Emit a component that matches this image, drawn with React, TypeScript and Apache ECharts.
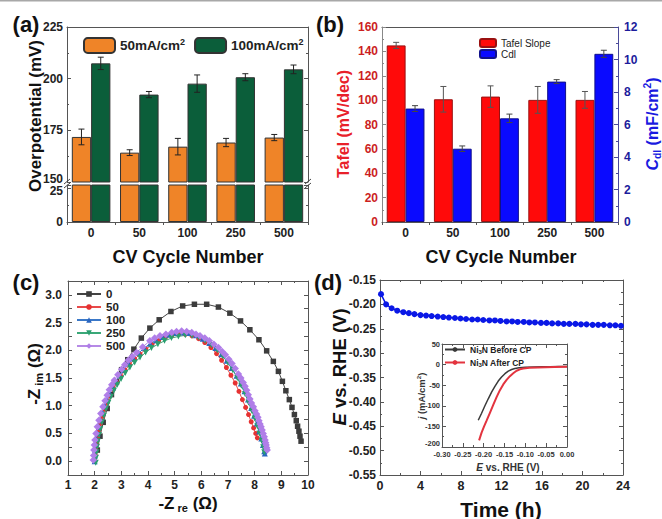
import React, { useEffect, useRef } from 'react';
import * as echarts from 'echarts';

// ---------- data ----------
const cycleLabels = ['0', '50', '100', '250', '500'];
const eta50 = [171.8, 164.2, 167.1, 169.1, 171.5];
const eta50Err = [3.8, 1.4, 4.0, 2.0, 1.5];
const eta100 = [207.4, 192.3, 197.6, 200.7, 204.5];
const eta100Err = [3.0, 1.5, 4.2, 1.7, 2.1];

const tafel = [144.9, 100.7, 102.9, 100.2, 100.2];
const tafelErr = [2.5, 10.5, 8.8, 11.0, 6.9];
const cdl = [6.98, 4.51, 6.38, 8.64, 10.35];
const cdlErr = [0.18, 0.17, 0.26, 0.12, 0.22];

const eis0 = [[2.1,0.2],[2.2,0.45],[2.32,0.7],[2.47,0.95],[2.63,1.2],[2.82,1.43],[3.01,1.65],[3.24,1.83],[3.47,2.02],[3.75,2.22],[4.07,2.4],[4.42,2.55],[4.86,2.7],[5.3,2.8],[5.74,2.83],[6.2,2.83],[6.64,2.78],[7.07,2.67],[7.47,2.53],[7.82,2.37],[8.16,2.19],[8.45,1.99],[8.7,1.8],[8.89,1.62],[9.04,1.44],[9.17,1.27],[9.3,1.11],[9.4,0.97],[9.49,0.84],[9.56,0.73],[9.61,0.63],[9.66,0.54],[9.7,0.45],[9.74,0.36]];
const eis50 = [[2.0,0.02],[2.02,0.12],[2.04,0.22],[2.07,0.33],[2.11,0.44],[2.16,0.56],[2.22,0.68],[2.3,0.81],[2.38,0.94],[2.47,1.06],[2.58,1.18],[2.7,1.3],[2.83,1.42],[2.98,1.53],[3.14,1.64],[3.31,1.74],[3.5,1.84],[3.7,1.93],[3.92,2.02],[4.15,2.1],[4.4,2.17],[4.65,2.23],[4.9,2.27],[5.15,2.29],[5.4,2.29],[5.65,2.26],[5.9,2.21],[6.13,2.14],[6.36,2.05],[6.57,1.94],[6.76,1.82],[6.94,1.69],[7.11,1.55],[7.27,1.41],[7.41,1.26],[7.54,1.11],[7.66,0.97],[7.77,0.84],[7.87,0.71],[7.96,0.6],[8.04,0.5],[8.1,0.42]];
const eis100 = [[2.0,0.0],[2.01,0.1],[2.02,0.2],[2.04,0.3],[2.07,0.4],[2.11,0.5],[2.16,0.62],[2.22,0.74],[2.3,0.87],[2.38,0.99],[2.47,1.1],[2.57,1.22],[2.68,1.33],[2.8,1.44],[2.95,1.55],[3.1,1.65],[3.27,1.76],[3.45,1.85],[3.65,1.95],[3.86,2.04],[4.08,2.12],[4.3,2.18],[4.55,2.24],[4.8,2.28],[5.05,2.31],[5.3,2.32],[5.55,2.31],[5.8,2.27],[6.05,2.21],[6.3,2.13],[6.53,2.04],[6.75,1.93],[6.95,1.81],[7.14,1.68],[7.32,1.54],[7.48,1.4],[7.62,1.26],[7.75,1.11],[7.87,0.96],[7.98,0.82],[8.08,0.68],[8.17,0.54],[8.25,0.41],[8.31,0.29],[8.36,0.18],[8.38,0.14]];
const eis250 = [[2.04,-0.03],[2.05,0.06],[2.07,0.16],[2.09,0.26],[2.12,0.36],[2.16,0.47],[2.21,0.58],[2.27,0.7],[2.34,0.82],[2.42,0.94],[2.51,1.05],[2.61,1.16],[2.72,1.27],[2.85,1.38],[2.99,1.48],[3.15,1.59],[3.32,1.69],[3.5,1.78],[3.7,1.87],[3.91,1.96],[4.13,2.04],[4.37,2.11],[4.62,2.17],[4.88,2.22],[5.14,2.25],[5.4,2.27],[5.65,2.26],[5.9,2.23],[6.14,2.17],[6.38,2.09],[6.6,2.0],[6.81,1.89],[7.0,1.77],[7.18,1.64],[7.35,1.5],[7.5,1.36],[7.64,1.21],[7.77,1.06],[7.89,0.91],[8.0,0.77],[8.1,0.63],[8.18,0.5],[8.26,0.37],[8.32,0.25],[8.36,0.16]];
const eis500 = [[1.95,0.02],[1.96,0.1],[1.97,0.2],[1.99,0.29],[2.01,0.38],[2.05,0.5],[2.1,0.62],[2.16,0.74],[2.23,0.86],[2.31,0.98],[2.39,1.09],[2.47,1.19],[2.55,1.29],[2.64,1.38],[2.74,1.46],[2.87,1.56],[3.01,1.66],[3.13,1.74],[3.26,1.82],[3.41,1.89],[3.57,1.96],[3.8,2.06],[4.07,2.17],[4.25,2.22],[4.45,2.26],[4.67,2.29],[4.89,2.32],[5.07,2.34],[5.26,2.35],[5.45,2.34],[5.64,2.32],[5.8,2.29],[5.95,2.26],[6.13,2.22],[6.3,2.17],[6.47,2.11],[6.64,2.05],[6.78,1.98],[6.9,1.92],[7.03,1.84],[7.15,1.76],[7.27,1.67],[7.39,1.57],[7.48,1.5],[7.57,1.42],[7.64,1.35],[7.7,1.28],[7.76,1.2],[7.82,1.12],[7.88,1.05],[7.95,0.98],[8.01,0.91],[8.07,0.85],[8.12,0.79],[8.16,0.73],[8.2,0.67],[8.24,0.62],[8.28,0.56],[8.32,0.5],[8.36,0.44],[8.39,0.38],[8.41,0.33],[8.43,0.29],[8.45,0.24],[8.47,0.2]];

const timeH = [0.1,0.6,1.15,1.7,2.3,2.85,3.4,4.0,4.55,5.1,5.7,6.25,6.8,7.4,7.95,8.5,9.1,9.65,10.2,10.8,11.35,11.9,12.5,13.05,13.6,14.2,14.75,15.3,15.9,16.45,17.0,17.6,18.15,18.7,19.3,19.85,20.4,21.0,21.55,22.1,22.7,23.25,23.8];
const potential = [-0.179,-0.2,-0.208,-0.213,-0.216,-0.218,-0.22,-0.222,-0.223,-0.224,-0.225,-0.226,-0.227,-0.228,-0.229,-0.23,-0.231,-0.231,-0.232,-0.233,-0.233,-0.234,-0.235,-0.235,-0.236,-0.236,-0.237,-0.237,-0.238,-0.238,-0.239,-0.239,-0.24,-0.24,-0.24,-0.241,-0.241,-0.242,-0.242,-0.242,-0.243,-0.243,-0.244];

const lsvBefore = [[-0.213,-135],[-0.205,-118],[-0.197,-100],[-0.189,-83],[-0.181,-67],[-0.173,-53],[-0.165,-40],[-0.157,-30],[-0.149,-22],[-0.141,-16],[-0.133,-12],[-0.125,-9.5],[-0.115,-7.8],[-0.1,-6.5],[-0.08,-5.8],[-0.06,-5.3],[-0.04,-5],[-0.02,-4.8],[0,-4.6]];
const lsvAfter = [[-0.211,-184],[-0.205,-165],[-0.199,-150],[-0.193,-136],[-0.185,-117],[-0.177,-98],[-0.169,-79],[-0.161,-62],[-0.153,-48],[-0.145,-37],[-0.137,-28],[-0.129,-21],[-0.121,-15],[-0.113,-11.5],[-0.105,-9.5],[-0.09,-7.8],[-0.07,-6.8],[-0.05,-6.2],[-0.03,-5.8],[0,-5.5]];

// ---------- styling ----------
const FONT = '"Liberation Sans", Arial, sans-serif';
const AX = '#555';
const ORANGE = '#ef8428';
const GREEN = '#0b5e3a';
const N50 = '50mA/cm2';
const N100 = '100mA/cm2';
const NB = 'Ni3N Before CP';
const NA = 'Ni3N After CP';

const line = (color = AX) => ({ show: true, onZero: false, lineStyle: { color, width: 1 } });
const tick = (color = AX, show = true) => ({ show, inside: true, length: 4, lineStyle: { color } });
const minor = (n: number, color = AX) => ({ show: true, splitNumber: n, length: 2, lineStyle: { color } });
const lbl = (size: number, color: string, margin: number, formatter?: any, rich?: any) => ({
  show: true, fontSize: size, fontWeight: 'bold', color, margin, fontFamily: FONT, formatter, rich,
});
const noLbl = { show: false };
const noSplit = { show: false };
const shifted = (size: number, color: string, pad: number[]) => ({
  u: { fontSize: size, fontWeight: 'bold', color, fontFamily: FONT, padding: pad },
});

const errRender = (frac: number, color: string, cap: number) => (params: any, api: any) => {
  const i = api.value(0);
  const lo = api.coord([i, api.value(1)]);
  const hi = api.coord([i, api.value(2)]);
  const bw = api.size([1, 0])[0];
  const x = lo[0] + frac * bw;
  const style = { stroke: color, lineWidth: 1 };
  return {
    type: 'group',
    children: [
      { type: 'line', shape: { x1: x, y1: lo[1], x2: x, y2: hi[1] }, style },
      { type: 'line', shape: { x1: x - cap, y1: lo[1], x2: x + cap, y2: lo[1] }, style },
      { type: 'line', shape: { x1: x - cap, y1: hi[1], x2: x + cap, y2: hi[1] }, style },
    ],
  };
};

const txt = (x: number, y: number, text: string, size: number, o: any = {}) => ({
  type: 'text',
  x, y,
  rotation: o.rot || 0,
  z: 100,
  style: {
    text,
    fontSize: size,
    fontWeight: o.weight || 'bold',
    fontFamily: FONT,
    fill: o.color || '#111',
    align: o.align || 'center',
    textAlign: o.align || 'center',
    verticalAlign: 'middle',
    textVerticalAlign: 'middle',
    rich: o.rich,
  },
});

const richTitle = (size: number, color: string) => ({
  n: { fontSize: size, fontWeight: 'bold', fontFamily: FONT, fill: color, lineHeight: size * 1.25 },
  i: { fontSize: size, fontWeight: 'bold', fontStyle: 'italic', fontFamily: FONT, fill: color, lineHeight: size * 1.25 },
  s: { fontSize: size * 0.65, fontWeight: 'bold', fontFamily: FONT, fill: color, verticalAlign: 'bottom', lineHeight: size * 0.65 },
  p: { fontSize: size * 0.65, fontWeight: 'bold', fontFamily: FONT, fill: color, verticalAlign: 'top', lineHeight: size * 0.65 },
});

const brk = (x: number, y: number) => ({
  type: 'line', z: 100,
  shape: { x1: x - 3, y1: y + 2.5, x2: x + 3, y2: y - 2.5 },
  style: { stroke: '#444', lineWidth: 1 },
});

function buildOption(): any {
  const catX = (gi: number, pos: string, show: boolean, labels: boolean) => ({
    type: 'category', gridIndex: gi, data: cycleLabels, position: pos,
    axisLine: show ? line() : { show: false },
    axisTick: labels ? { show: true, inside: false, length: 3, lineStyle: { color: AX } } : { show: false },
    axisLabel: labels ? lbl(12, '#222', 5) : noLbl,
    splitLine: noSplit,
  });
  const valX = (gi: number, pos: string, min: number, max: number, interval: number, mn: number, label: any) => ({
    type: 'value', gridIndex: gi, position: pos, min, max, interval,
    axisLine: line(), axisTick: tick(), minorTick: minor(mn),
    axisLabel: label || noLbl, splitLine: noSplit, minorSplitLine: { show: false },
  });
  const valY = (gi: number, pos: string, min: number, max: number, interval: number, mn: number, label: any, color = AX) => ({
    type: 'value', gridIndex: gi, position: pos, min, max, interval,
    axisLine: line(color), axisTick: tick(color), minorTick: minor(mn, color),
    axisLabel: label || noLbl, splitLine: noSplit, minorSplitLine: { show: false },
  });

  const barStyle = (color: string, border: string) => ({ color, borderColor: border, borderWidth: 1 });

  return {
    animation: false,
    backgroundColor: '#fff',
    textStyle: { fontFamily: FONT },
    grid: [
      { left: 67, top: 27, width: 241, height: 155 },
      { left: 67, top: 185, width: 241, height: 37 },
      { left: 382, top: 27, width: 236, height: 195 },
      { left: 68, top: 281, width: 240, height: 194 },
      { left: 380, top: 280, width: 243, height: 195 },
      { left: 442, top: 344, width: 125, height: 103, show: true, backgroundColor: '#fff', borderWidth: 0 },
    ],
    xAxis: [
      catX(0, 'bottom', false, false),
      catX(0, 'top', true, false),
      catX(1, 'bottom', true, true),
      catX(2, 'bottom', true, true),
      catX(2, 'top', true, false),
      valX(3, 'bottom', 1, 10, 1, 2, lbl(12, '#222', 4)),
      valX(3, 'top', 1, 10, 1, 2, null),
      valX(4, 'bottom', 0, 24, 4, 2, lbl(12.5, '#222', 4)),
      valX(4, 'top', 0, 24, 4, 2, null),
      valX(5, 'bottom', -0.3, 0, 0.05, 2, lbl(7.5, '#333', 3, (v: number) => v.toFixed(2))),
      valX(5, 'top', -0.3, 0, 0.05, 2, null),
    ],
    yAxis: [
      valY(0, 'left', 150, 225, 25, 2, lbl(12, '#222', 4,
        (v: number) => (v === 150 ? '{u|150}' : String(v)), shifted(12, '#222', [0, 0, 7, 0]))),
      valY(0, 'right', 150, 225, 25, 2, null),
      valY(1, 'left', 0, 27.2, 25, 2, lbl(12, '#222', 4,
        (v: number) => (Math.abs(v - 25) < 1e-6 ? '{u|25}' : Math.abs(v) < 1e-6 ? '0' : ''), shifted(12, '#222', [6, 0, 0, 0]))),
      valY(1, 'right', 0, 27.2, 25, 2, null),
      valY(2, 'left', 0, 160, 20, 2, lbl(12, '#cc1f1f', 4), '#888'),
      valY(2, 'right', 0, 12, 2, 2, lbl(12, '#1c1c9c', 6), '#4a4a9a'),
      valY(3, 'left', -0.25, 3.25, 0.25, 1, lbl(12, '#222', 6, (v: number) => {
        const d = v * 2;
        return Math.abs(d - Math.round(d)) < 1e-6 && v > -0.01 && v < 3.01 ? v.toFixed(1) : '';
      })),
      valY(3, 'right', -0.25, 3.25, 0.25, 1, null),
      valY(4, 'left', -0.55, -0.15, 0.05, 2, lbl(12, '#222', 4, (v: number) => v.toFixed(2))),
      valY(4, 'right', -0.55, -0.15, 0.05, 2, null),
      valY(5, 'left', -200, 50, 50, 2, lbl(7.5, '#333', 2,
        (v: number) => (v === -200 ? '{u|-200}' : String(v)), shifted(7.5, '#333', [0, 0, 7, 0]))),
      valY(5, 'right', -200, 50, 50, 2, null),
    ],
    legend: [
      {
        data: [N50, N100], left: 83, top: 37, orient: 'horizontal', padding: 0,
        itemWidth: 31, itemHeight: 15, itemGap: 9, selectedMode: false,
        formatter: (n: string) => `{n|${n.slice(0, -1)}}{p|2}`,
        textStyle: {
          fontFamily: FONT, color: '#222',
          rich: {
            n: { fontSize: 13.5, fontWeight: 'bold', fontFamily: FONT, color: '#222', lineHeight: 16 },
            p: { fontSize: 9, fontWeight: 'bold', fontFamily: FONT, color: '#222', verticalAlign: 'top', lineHeight: 9 },
          },
        },
      },
      {
        data: ['Tafel Slope', 'Cdl'], left: 479, top: 38, orient: 'vertical', padding: 0,
        itemWidth: 16, itemHeight: 8, itemGap: 1, selectedMode: false,
        textStyle: { fontSize: 10, fontFamily: FONT, color: '#222', lineHeight: 10 },
      },
      {
        data: ['0', '50', '100', '250', '500'], left: 76, top: 288, orient: 'vertical', padding: 0,
        itemWidth: 24, itemHeight: 7, itemGap: 1, selectedMode: false,
        textStyle: { fontSize: 11.5, fontWeight: 'bold', fontFamily: FONT, color: '#222', lineHeight: 12 },
      },
      {
        data: [NB, NA], left: 444, top: 345, orient: 'vertical', padding: 0,
        itemWidth: 20, itemHeight: 6, itemGap: 3, selectedMode: false,
        formatter: (n: string) => `{n|Ni}{s|3}{n|${n.slice(3)}}`,
        textStyle: {
          fontFamily: FONT, color: '#222',
          rich: {
            n: { fontSize: 8.5, fontWeight: 'bold', fontFamily: FONT, color: '#222', lineHeight: 11 },
            s: { fontSize: 6, fontWeight: 'bold', fontFamily: FONT, color: '#222', verticalAlign: 'bottom', lineHeight: 6 },
          },
        },
      },
    ],
    series: [
      // (a) upper
      { type: 'bar', name: N50, xAxisIndex: 0, yAxisIndex: 0, data: eta50, barWidth: '40%', barGap: '0%', clip: true, itemStyle: barStyle(ORANGE, '#333') },
      { type: 'bar', name: N100, xAxisIndex: 0, yAxisIndex: 0, data: eta100, barWidth: '40%', barGap: '0%', clip: true, itemStyle: barStyle(GREEN, '#333') },
      // (a) lower
      { type: 'bar', name: N50, xAxisIndex: 2, yAxisIndex: 2, data: eta50, barWidth: '40%', barGap: '0%', clip: true, itemStyle: barStyle(ORANGE, '#333') },
      { type: 'bar', name: N100, xAxisIndex: 2, yAxisIndex: 2, data: eta100, barWidth: '40%', barGap: '0%', clip: true, itemStyle: barStyle(GREEN, '#333') },
      {
        type: 'custom', xAxisIndex: 0, yAxisIndex: 0, z: 5, encode: { x: 0, y: [1, 2] },
        data: eta50.map((v, i) => [i, v - eta50Err[i], v + eta50Err[i]]),
        renderItem: errRender(-0.2, '#222', 3),
      },
      {
        type: 'custom', xAxisIndex: 0, yAxisIndex: 0, z: 5, encode: { x: 0, y: [1, 2] },
        data: eta100.map((v, i) => [i, v - eta100Err[i], v + eta100Err[i]]),
        renderItem: errRender(0.2, '#222', 3),
      },
      // (b)
      { type: 'bar', name: 'Tafel Slope', xAxisIndex: 3, yAxisIndex: 4, data: tafel, barWidth: '40%', barGap: '0%', itemStyle: barStyle('#ff0a0a', '#9a1010') },
      { type: 'bar', name: 'Cdl', xAxisIndex: 3, yAxisIndex: 5, data: cdl, barWidth: '40%', barGap: '0%', itemStyle: barStyle('#0a0aff', '#10108a') },
      {
        type: 'custom', xAxisIndex: 3, yAxisIndex: 4, z: 5, encode: { x: 0, y: [1, 2] },
        data: tafel.map((v, i) => [i, v - tafelErr[i], v + tafelErr[i]]),
        renderItem: errRender(-0.2, '#555', 3),
      },
      {
        type: 'custom', xAxisIndex: 3, yAxisIndex: 5, z: 5, encode: { x: 0, y: [1, 2] },
        data: cdl.map((v, i) => [i, v - cdlErr[i], v + cdlErr[i]]),
        renderItem: errRender(0.2, '#444', 3),
      },
      // (c)
      { type: 'line', name: '0', xAxisIndex: 5, yAxisIndex: 6, data: eis0, symbol: 'rect', symbolSize: 5.5, lineStyle: { color: '#444', width: 1 }, itemStyle: { color: '#3c3c3c' } },
      { type: 'line', name: '50', xAxisIndex: 5, yAxisIndex: 6, data: eis50, symbol: 'circle', symbolSize: 5, lineStyle: { color: '#e84a4a', width: 1 }, itemStyle: { color: '#e63232' } },
      { type: 'line', name: '100', xAxisIndex: 5, yAxisIndex: 6, data: eis100, symbol: 'triangle', symbolSize: 6, lineStyle: { color: '#3a78c8', width: 1 }, itemStyle: { color: '#2a66c0' } },
      { type: 'line', name: '250', xAxisIndex: 5, yAxisIndex: 6, data: eis250, symbol: 'triangle', symbolRotate: 180, symbolSize: 6, lineStyle: { color: '#3aa878', width: 1 }, itemStyle: { color: '#2a9e6e' } },
      { type: 'line', name: '500', xAxisIndex: 5, yAxisIndex: 6, data: eis500, symbol: 'diamond', symbolSize: 7.5, lineStyle: { color: '#b68ae6', width: 1 }, itemStyle: { color: '#b07ee8' } },
      // (d)
      {
        type: 'line', name: 'CP', xAxisIndex: 7, yAxisIndex: 8,
        data: timeH.map((t, i) => [t, potential[i]]),
        symbol: 'circle', symbolSize: 6, lineStyle: { color: '#0a18e6', width: 1.5 }, itemStyle: { color: '#0a18e6' },
      },
      // inset
      { type: 'line', name: NB, xAxisIndex: 9, yAxisIndex: 10, data: lsvBefore, showSymbol: false, symbol: 'circle', lineStyle: { color: '#3a3a3a', width: 1.5 }, itemStyle: { color: '#3a3a3a' }, z: 3 },
      { type: 'line', name: NA, xAxisIndex: 9, yAxisIndex: 10, data: lsvAfter, showSymbol: false, symbol: 'circle', lineStyle: { color: '#e3343f', width: 2 }, itemStyle: { color: '#e3343f' }, z: 4 },
    ],
    graphic: [
      { type: 'line', shape: { x1: 0, y1: 0.75, x2: 662, y2: 0.75 }, style: { stroke: '#a8a8a8', lineWidth: 1.5 } },
      txt(26, 24, '(a)', 22),
      txt(330, 24, '(b)', 22),
      txt(26, 282, '(c)', 22),
      txt(328, 282, '(d)', 22),
      txt(35, 116, 'Overpotential (mV)', 17, { rot: Math.PI / 2 }),
      txt(188, 257, 'CV Cycle Number', 18),
      txt(501, 257, 'CV Cycle Number', 18),
      txt(343, 124, 'Tafel (mV/dec)', 16, { rot: Math.PI / 2, color: '#e8202a' }),
      txt(652, 124, '{i|C}{s|dl}{n| (mF/cm}{p|2}{n|)}', 16, { rot: Math.PI / 2, color: '#1a1ae0', rich: richTitle(16, '#1a1ae0') }),
      txt(34, 374, '{n|-Z}{s| im}{n| (Ω)}', 17, { rot: Math.PI / 2, rich: richTitle(17, '#111') }),
      txt(188, 503, '{n|-Z}{s| re}{n| (Ω)}', 17, { rich: richTitle(17, '#111') }),
      txt(339, 367, '{i|E}{n| vs. RHE (V)}', 18.5, { rot: Math.PI / 2, rich: richTitle(18.5, '#111') }),
      txt(501, 509, 'Time (h)', 21),
      txt(421, 396, '{i|j}{n| (mA/cm}{p|2}{n|)}', 9.5, { rot: Math.PI / 2, rich: richTitle(9.5, '#333') }),
      txt(508, 467, '{i|E}{n| vs. RHE (V)}', 10, { rich: richTitle(10, '#333') }),
      brk(67, 181.5), brk(67, 185.5), brk(308, 181.5), brk(308, 185.5),
    ],
  };
}

export default function App() {
  const ref = useRef<HTMLDivElement>(null);
  useEffect(() => {
    document.body.style.margin = '0';
    const chart = echarts.init(ref.current!, null, { renderer: 'svg' });
    chart.setOption(buildOption());
    return () => chart.dispose();
  }, []);
  return <div ref={ref} style={{ width: 662, height: 519 }} />;
}
